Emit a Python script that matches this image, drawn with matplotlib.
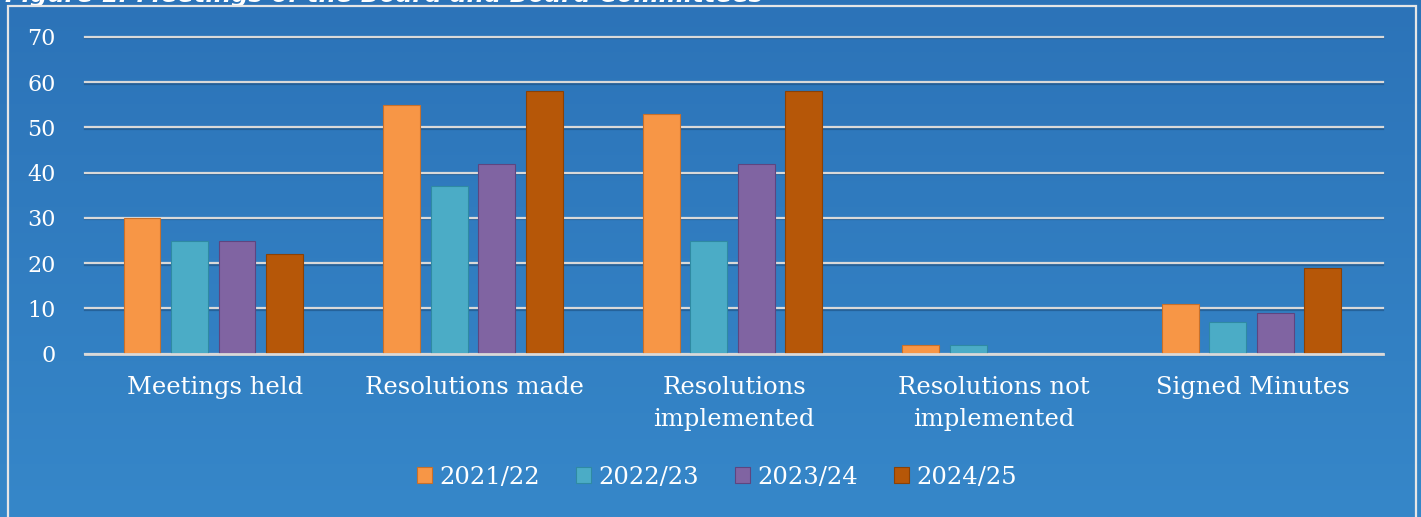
import numpy as np
import matplotlib.pyplot as plt
import matplotlib.patheffects as pe
from matplotlib.patches import Rectangle

plt.rcParams["font.family"] = "DejaVu Serif"

# Data
categories = ["Meetings held", "Resolutions made", "Resolutions\nimplemented",
              "Resolutions not\nimplemented", "Signed Minutes"]
years = ["2021/22", "2022/23", "2023/24", "2024/25"]
v_2021 = [30, 55, 53, 2, 11]
v_2022 = [25, 37, 25, 2, 7]
v_2023 = [25, 42, 42, 0, 9]
v_2024 = [22, 58, 58, 0, 19]
series = [v_2021, v_2022, v_2023, v_2024]

colors = ["#F79646", "#4BACC6", "#8064A2", "#B65708"]
edges = ["#c8702a", "#2f8aa3", "#5e4580", "#8a4106"]

W, H = 1421, 517
fig = plt.figure(figsize=(W / 100, H / 100), dpi=100)

# gradient background
bg = fig.add_axes([0, 0, 1, 1], zorder=-10)
grad = np.linspace(0, 1, 256).reshape(-1, 1)
top = np.array([44, 115, 184]) / 255
bot = np.array([54, 135, 201]) / 255
img = top + (bot - top) * grad[..., None] * np.ones((1, 2, 1))
bg.imshow(img, aspect="auto", extent=[0, 1, 0, 1], origin="upper")
bg.set_axis_off()

# white frame
fig.patches.append(Rectangle((8 / W, -0.05), (1416 - 8) / W, 1.05 - 6 / H,
                             transform=fig.transFigure, fill=False,
                             edgecolor="#e6e6e6", linewidth=1.6, zorder=5))

# title, cut off at the top edge as in the source
fig.text(5 / W, 1 - 2 / H, "Figure 1: Meetings of the Board and Board Committees",
         family="DejaVu Sans", weight="bold", style="italic", color="white",
         fontsize=17.5, ha="left", va="baseline")

ax = fig.add_axes([85 / W, (H - 353.7) / H, (1383 - 85) / W, (353.7 - 37) / H])
ax.patch.set_alpha(0)

x = np.arange(len(categories))
step = 0.183
width = 0.142
for i, (vals, yr) in enumerate(zip(series, years)):
    ax.bar(x + (i - 1.5) * step - 0.006, vals, width, color=colors[i],
           edgecolor=edges[i], linewidth=0.8, label=yr, zorder=3)

ax.set_xlim(-0.5, len(categories) - 0.5)
ax.set_ylim(0, 70)
ax.set_yticks(range(0, 71, 10))
shadow = [pe.SimpleLineShadow(offset=(0, -1), shadow_color="#1d4f80", alpha=0.6), pe.Normal()]
ax.yaxis.grid(True, color="#d9d9d9", linewidth=1.6, zorder=0, path_effects=shadow)
for gl in ax.get_ygridlines():
    gl.set_clip_on(False)
ax.set_axisbelow(True)
ax.axhline(0, color="#d9d9d9", linewidth=2, zorder=4, clip_on=False)
for s in ax.spines.values():
    s.set_visible(False)
ax.tick_params(axis="both", length=0, colors="white")
ax.tick_params(axis="y", pad=21, labelsize=16)
ax.tick_params(axis="x", pad=16)
ax.set_xticks(x)
ax.set_xticklabels(categories, fontsize=17.5, color="white", linespacing=1.5)
for lab in ax.get_yticklabels():
    lab.set_color("white")

leg = fig.legend(loc="center", bbox_to_anchor=(717 / W, 1 - 477 / H), ncol=4,
                 frameon=False, fontsize=17.5, handlelength=0.6, handleheight=0.6,
                 handletextpad=0.3, columnspacing=1.5)
for t in leg.get_texts():
    t.set_color("white")

fig.savefig("out.png", dpi=100)
